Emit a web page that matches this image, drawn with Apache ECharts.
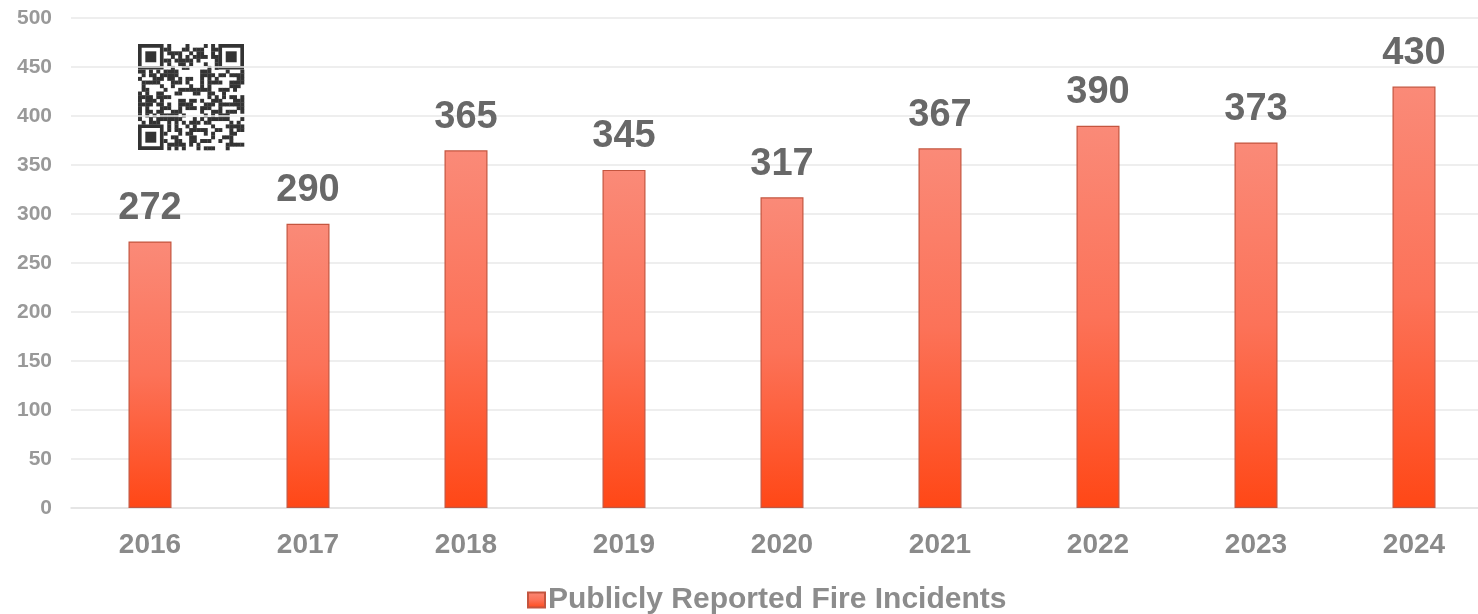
<!DOCTYPE html>
<html><head><meta charset="utf-8">
<script src="https://cdn.jsdelivr.net/npm/echarts@6/dist/echarts.min.js"></script>
<style>html,body{margin:0;padding:0;background:#fff;overflow:hidden}#c{width:1500px;height:614px}</style>
</head><body><div id="c"></div>
<script>
const categories = ['2016','2017','2018','2019','2020','2021','2022','2023','2024'];
const values = [272, 290, 365, 345, 317, 367, 390, 373, 430];
const seriesName = 'Publicly Reported Fire Incidents';
const yTicks = [0, 50, 100, 150, 200, 250, 300, 350, 400, 450, 500];

// decorative QR-like watermark
function qrGraphic(x0, y0, size, n) {
  const cell = size / n;
  const children = [];
  let s = 12345;
  function rnd() { s = (s * 1103515245 + 12345) & 0x7fffffff; return s / 0x7fffffff; }
  const isFinder = (i, j) => (i < 7 && j < 7) || (i < 7 && j >= n - 7) || (i >= n - 7 && j < 7);
  for (let i = 0; i < n; i++) for (let j = 0; j < n; j++) {
    if (isFinder(i, j)) continue;
    if (rnd() < 0.5) children.push({type:'rect', shape:{x:x0 + j*cell, y:y0 + i*cell, width:cell+0.3, height:cell+0.3}, style:{fill:'#333'}});
  }
  [[0,0],[0,n-7],[n-7,0]].forEach(([i,j]) => {
    children.push({type:'rect', shape:{x:x0+j*cell+cell/2, y:y0+i*cell+cell/2, width:6*cell, height:6*cell}, style:{fill:'none', stroke:'#333', lineWidth:cell}});
    children.push({type:'rect', shape:{x:x0+(j+2)*cell, y:y0+(i+2)*cell, width:3*cell, height:3*cell}, style:{fill:'#333'}});
  });
  return {type:'group', silent:true, children};
}

const chart = echarts.init(document.getElementById('c'));
chart.setOption({
  backgroundColor: '#fff',
  animation: false,
  textStyle: {fontFamily: 'Liberation Sans, Arial, sans-serif'},
  grid: {left: 71, width: 1422, top: 18, bottom: 106, containLabel: false},
  legend: {
    top: 585, left: 527, padding: 0,
    itemWidth: 17, itemHeight: 15, itemGap: 6,
    icon: 'rect',
    textStyle: {fontSize: 30, fontWeight: 'bold', color: '#8c8c8c', padding: [0, 0, 0, -2]},
    data: [seriesName]
  },
  xAxis: {
    type: 'category', data: categories,
    axisLine: {lineStyle: {color: '#e2e2e2', width: 1.5}},
    axisTick: {show: false},
    axisLabel: {fontSize: 28, fontWeight: 'bold', color: '#8a8a8a', margin: 23}
  },
  yAxis: {
    type: 'value', min: yTicks[0], max: yTicks[yTicks.length-1], interval: 50,
    axisLine: {show: false}, axisTick: {show: false},
    axisLabel: {fontSize: 21, fontWeight: 'bold', color: '#999', margin: 19},
    splitLine: {lineStyle: {color: '#e8e8e8', width: 1.5}}
  },
  series: [{
    name: seriesName, type: 'bar', data: values, barWidth: 43,
    itemStyle: {
      color: new echarts.graphic.LinearGradient(0, 0, 0, 1, [
        {offset: 0, color: '#fa8a78'},
        {offset: 0.5, color: '#fc7258'},
        {offset: 1, color: '#ff4716'}
      ]),
      borderColor: '#c4553f', borderWidth: 1.2
    },
    label: {show: true, position: 'top', distance: 14, fontSize: 38, fontWeight: 'bold', color: '#686868'}
  }],
  graphic: [qrGraphic(138, 44, 106, 29)]
});
</script></body></html>
